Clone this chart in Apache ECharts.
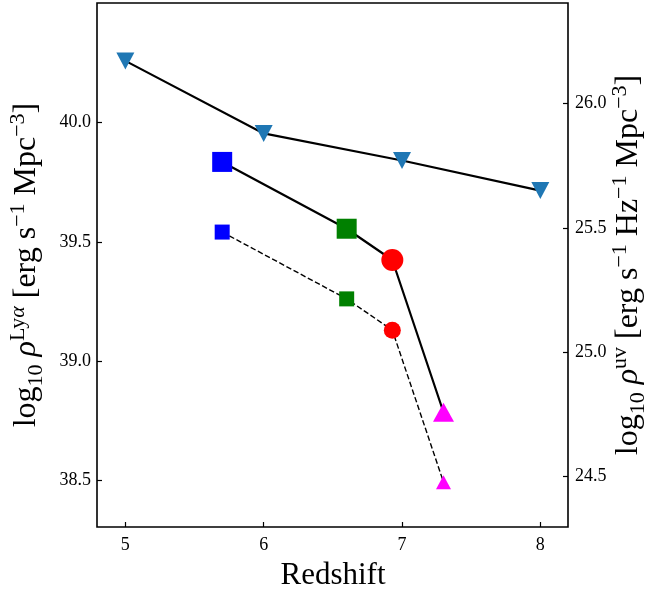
<!DOCTYPE html>
<html>
<head>
<meta charset="utf-8">
<script src="https://cdn.jsdelivr.net/npm/echarts@6/dist/echarts.min.js"></script>
<style>
  html, body { margin: 0; padding: 0; background: #fff; }
  #chart { width: 645px; height: 590px; }
</style>
</head>
<body>
<div id="chart"></div>
<script>
// Tick positions
const redshiftTicks = [5, 6, 7, 8];
const lyaTicks = [38.5, 39.0, 39.5, 40.0];
const uvTicks = [24.5, 25.0, 25.5, 26.0];

// UV luminosity density (right axis)
const uvRedshift = [5, 6, 7, 8];
const uvDensity = [26.172, 25.880, 25.771, 25.650];

// Lyman-alpha luminosity density (left axis)
const lyaRedshift = [5.7, 6.6, 6.93, 7.3];
const lyaUpper = [39.835, 39.555, 39.424, 38.786];
const lyaLower = [39.541, 39.261, 39.130, 38.493];

// Marker styling per redshift bin
const binColors = ['#0000ff', '#008000', '#ff0000', '#ff00ff'];
const binSymbols = ['rect', 'rect', 'circle', 'triangle'];
const bigSizes = [20, 20, 22, [21, 19]];
const smallSizes = [15, 15, 17, [15, 14]];

const FONT = 'Liberation Serif';

function pairs(xs, ys) {
  return xs.map((x, i) => [x, ys[i]]);
}

function binData(xs, ys, sizes) {
  return xs.map((x, i) => ({
    value: [x, ys[i]],
    symbol: binSymbols[i],
    symbolSize: sizes[i],
    itemStyle: { color: binColors[i] }
  }));
}

const tickLabel = {
  fontFamily: FONT,
  fontSize: 18,
  color: '#000',
  margin: 6,
  formatter: v => v.toFixed(1)
};

const tickMark = {
  inside: true,
  length: 5,
  lineStyle: { color: '#000', width: 1.2 }
};

// Rich-text styles for the axis titles (superscripts / subscripts)
const titleRich = {
  a: { fontFamily: FONT, fontSize: 32, lineHeight: 40, verticalAlign: 'middle', fill: '#000' },
  it: { fontFamily: FONT, fontSize: 32, fontStyle: 'italic', lineHeight: 40, verticalAlign: 'middle', fill: '#000' },
  sup: { fontFamily: FONT, fontSize: 22, lineHeight: 18, verticalAlign: 'top', fill: '#000' },
  supit: { fontFamily: FONT, fontSize: 22, fontStyle: 'italic', lineHeight: 18, verticalAlign: 'top', fill: '#000' },
  sub: { fontFamily: FONT, fontSize: 22, lineHeight: 23, verticalAlign: 'bottom', fill: '#000' }
};

const chart = echarts.init(document.getElementById('chart'), null, { renderer: 'canvas' });

chart.setOption({
  animation: false,
  backgroundColor: '#fff',
  grid: {
    left: 97, right: 77, top: 3, bottom: 63,
    show: true, borderColor: '#000', borderWidth: 1.6,
    backgroundColor: 'transparent'
  },
  xAxis: {
    type: 'value',
    min: 4.795, max: 8.2,
    axisLine: { show: false },
    splitLine: { show: false },
    axisTick: Object.assign({ customValues: redshiftTicks }, tickMark),
    axisLabel: Object.assign({}, tickLabel, {
      customValues: redshiftTicks,
      margin: 9,
      formatter: v => String(v)
    })
  },
  yAxis: [
    {
      type: 'value',
      position: 'left',
      min: 38.305, max: 40.501,
      axisLine: { show: false },
      splitLine: { show: false },
      axisTick: Object.assign({ customValues: lyaTicks }, tickMark),
      axisLabel: Object.assign({ customValues: lyaTicks }, tickLabel)
    },
    {
      type: 'value',
      position: 'right',
      min: 24.296, max: 26.405,
      alignTicks: false,
      axisLine: { show: false },
      splitLine: { show: false },
      axisTick: Object.assign({ customValues: uvTicks }, tickMark),
      axisLabel: Object.assign({ customValues: uvTicks }, tickLabel, { margin: 7 })
    }
  ],
  series: [
    {
      type: 'line',
      yAxisIndex: 1,
      data: pairs(uvRedshift, uvDensity),
      lineStyle: { color: '#000', width: 2.2 },
      symbol: 'triangle',
      symbolRotate: 180,
      symbolSize: [18, 17],
      itemStyle: { color: '#1f77b4' },
      z: 3
    },
    {
      type: 'line',
      yAxisIndex: 0,
      data: binData(lyaRedshift, lyaUpper, bigSizes),
      lineStyle: { color: '#000', width: 2.2 },
      z: 3
    },
    {
      type: 'line',
      yAxisIndex: 0,
      data: binData(lyaRedshift, lyaLower, smallSizes),
      lineStyle: { color: '#000', width: 1.4, type: [5.5, 2.6] },
      z: 3
    }
  ],
  graphic: [
    {
      type: 'text',
      x: 333, y: 576,
      style: {
        text: 'Redshift',
        font: '31px "' + FONT + '"',
        fill: '#000',
        align: 'center',
        verticalAlign: 'middle'
      }
    },
    {
      type: 'text',
      x: 27, y: 265,
      rotation: Math.PI / 2,
      style: {
        text: '{a|log}{sub|10}{a| }{it|ρ}{sup|Ly}{supit|α}{a| [erg s}{sup|−1}{a| Mpc}{sup|−3}{a|]}',
        align: 'center',
        verticalAlign: 'middle',
        fill: '#000',
        rich: titleRich
      }
    },
    {
      type: 'text',
      x: 629, y: 265,
      rotation: Math.PI / 2,
      style: {
        text: '{a|log}{sub|10}{a| }{it|ρ}{sup|uv}{a| [erg s}{sup|−1}{a| Hz}{sup|−1}{a| Mpc}{sup|−3}{a|]}',
        align: 'center',
        verticalAlign: 'middle',
        fill: '#000',
        rich: titleRich
      }
    }
  ]
});
</script>
</body>
</html>
